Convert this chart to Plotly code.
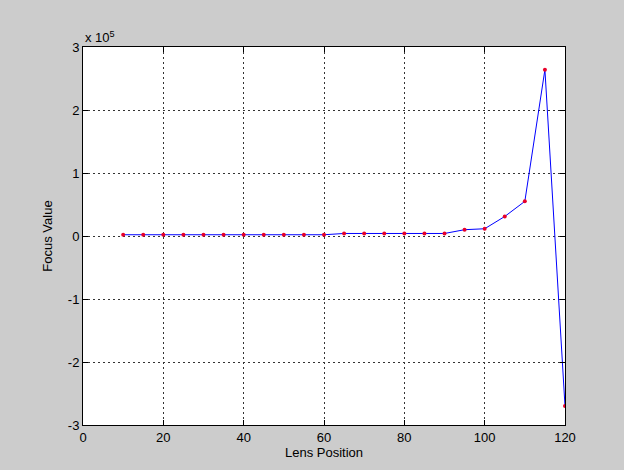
import plotly.graph_objects as go

lens_position = [10, 15, 20, 25, 30, 35, 40, 45, 50, 55, 60, 65, 70, 75, 80, 85, 90, 95, 100, 105, 110, 115, 120]
focus_value = [2000, 2000, 2000, 2000, 2000, 2000, 2000, 2000, 2000, 2000, 2000, 4000, 4000, 4000, 4000, 4000, 4000,
               10000, 11500, 31000, 55000, 264000, -270000]

x_ticks = [0, 20, 40, 60, 80, 100, 120]
y_ticks = [-300000, -200000, -100000, 0, 100000, 200000, 300000]
y_tick_labels = ["-3", "-2", "-1", "0", "1", "2", "3"]

fig = go.Figure()
fig.add_trace(go.Scatter(
    x=lens_position, y=focus_value, mode="lines+markers",
    line=dict(color="#0000ff", width=1),
    marker=dict(color="#e8002a", size=4, symbol="circle"),
    showlegend=False,
))

font = dict(family="Liberation Sans, Arial, sans-serif", size=13, color="#000000")
axis_common = dict(
    showline=True, linecolor="#000000", linewidth=1, mirror="ticks",
    ticks="inside", ticklen=5, tickcolor="#000000",
    showgrid=True, gridcolor="#333333", griddash="2px,3px", gridwidth=1,
    zeroline=False, tickfont=font,
)
fig.update_xaxes(range=[0, 120], tickvals=x_ticks, title=dict(text="Lens Position", font=font, standoff=4), **axis_common)
fig.update_yaxes(range=[-300000, 300000], tickvals=y_ticks, ticktext=y_tick_labels,
                 title=dict(text="Focus Value", font=font, standoff=12), **axis_common)

fig.add_annotation(text="x 10<sup>5</sup>", xref="paper", yref="paper", x=0.0, y=1.0,
                   xanchor="left", yanchor="bottom", showarrow=False,
                   font=dict(family="Liberation Sans, Arial, sans-serif", size=13, color="#000000"))

fig.update_layout(
    width=624, height=470,
    margin=dict(l=83, r=59, t=47, b=43),
    paper_bgcolor="#cccccc", plot_bgcolor="#ffffff",
    font=font,
)
fig.write_html("out.html")
